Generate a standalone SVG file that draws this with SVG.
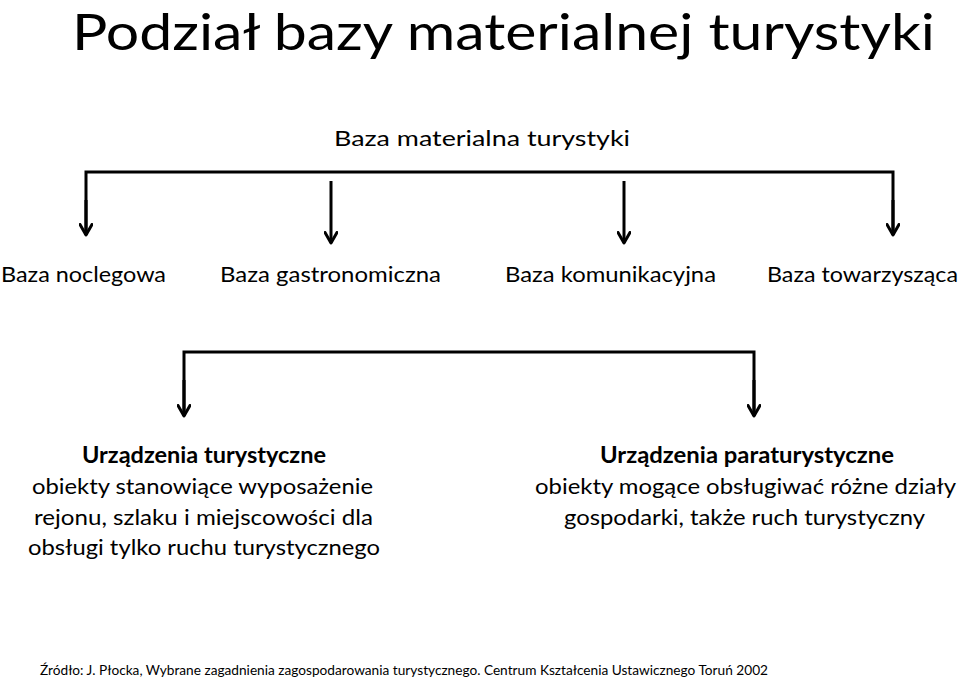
<svg xmlns="http://www.w3.org/2000/svg" width="960" height="679" viewBox="0 0 960 679">
  <defs>
    <style>
      text { font-family: Lato, "Open Sans", "Liberation Sans", sans-serif; fill: #000; }
      .title { font-size: 50px; }
      .lbl { font-size: 22px; }
      .b { font-weight: bold; }
      .src { font-size: 14px; }
      .conn { fill: none; stroke: #000; stroke-width: 3; stroke-linejoin: miter; }
      .head { fill: none; stroke: #000; stroke-width: 3; stroke-linecap: round; stroke-linejoin: round; }
    </style>
    <marker id="arrow" viewBox="0 0 14 14" refX="12" refY="7" markerWidth="14" markerHeight="14" markerUnits="userSpaceOnUse" orient="auto">
      <path class="head" d="M1.5,1 L12,7 L1.5,13"/>
    </marker>
  </defs>
  <rect width="960" height="679" fill="#fff"/>

  <g id="title">
    <text class="title" x="72" y="49.5" textLength="863" lengthAdjust="spacingAndGlyphs">Podział bazy materialnej turystyki</text>
  </g>

  <g id="connectors">
    <path class="conn" d="M86,235 L86,172 L893,172 L893,235"/>
    <path class="conn" d="M86,200 L86,235" marker-end="url(#arrow)"/>
    <path class="conn" d="M893,200 L893,235" marker-end="url(#arrow)"/>
    <path class="conn" d="M331,181 L331,243" marker-end="url(#arrow)"/>
    <path class="conn" d="M624,181 L624,243" marker-end="url(#arrow)"/>
    <path class="conn" d="M184,416 L184,352 L754,352 L754,416"/>
    <path class="conn" d="M184,380 L184,416" marker-end="url(#arrow)"/>
    <path class="conn" d="M754,380 L754,416" marker-end="url(#arrow)"/>
  </g>

  <g id="node-root">
    <text class="lbl" x="334" y="146" textLength="296" lengthAdjust="spacingAndGlyphs">Baza materialna turystyki</text>
  </g>
  <g id="node-noclegowa">
    <text class="lbl" x="1" y="282" textLength="165" lengthAdjust="spacingAndGlyphs">Baza noclegowa</text>
  </g>
  <g id="node-gastronomiczna">
    <text class="lbl" x="220" y="282" textLength="221" lengthAdjust="spacingAndGlyphs">Baza gastronomiczna</text>
  </g>
  <g id="node-komunikacyjna">
    <text class="lbl" x="505" y="282" textLength="211" lengthAdjust="spacingAndGlyphs">Baza komunikacyjna</text>
  </g>
  <g id="node-towarzyszaca">
    <text class="lbl" x="767" y="282" textLength="191" lengthAdjust="spacingAndGlyphs">Baza towarzysząca</text>
  </g>

  <g id="node-turystyczne">
    <text class="lbl b" x="82" y="463" textLength="244" lengthAdjust="spacingAndGlyphs">Urządzenia turystyczne</text>
    <text class="lbl" x="32" y="494" textLength="341" lengthAdjust="spacingAndGlyphs">obiekty stanowiące wyposażenie</text>
    <text class="lbl" x="34" y="525" textLength="339" lengthAdjust="spacingAndGlyphs">rejonu, szlaku i miejscowości dla</text>
    <text class="lbl" x="28" y="555" textLength="352" lengthAdjust="spacingAndGlyphs">obsługi tylko ruchu turystycznego</text>
  </g>

  <g id="node-paraturystyczne">
    <text class="lbl b" x="600" y="463" textLength="294" lengthAdjust="spacingAndGlyphs">Urządzenia paraturystyczne</text>
    <text class="lbl" x="535" y="494" textLength="421" lengthAdjust="spacingAndGlyphs">obiekty mogące obsługiwać różne działy</text>
    <text class="lbl" x="564" y="525" textLength="361" lengthAdjust="spacingAndGlyphs">gospodarki, także ruch turystyczny</text>
  </g>

  <g id="source">
    <text class="src" x="40" y="675" textLength="728" lengthAdjust="spacingAndGlyphs">Źródło: J. Płocka, Wybrane zagadnienia zagospodarowania turystycznego.  Centrum Kształcenia Ustawicznego Toruń 2002</text>
  </g>
</svg>
